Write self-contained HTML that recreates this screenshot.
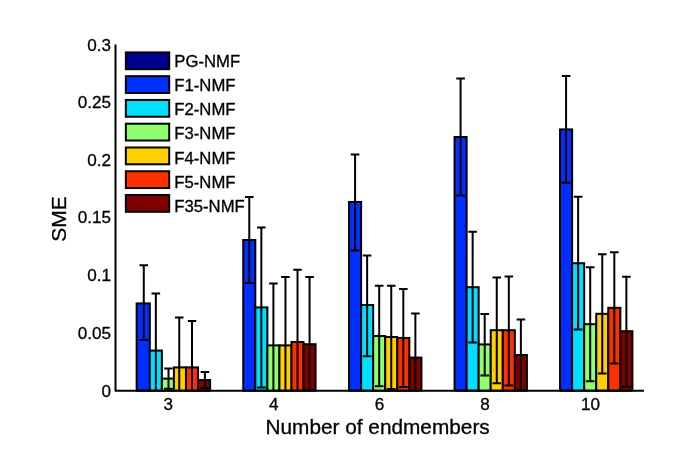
<!DOCTYPE html>
<html lang="en"><head><meta charset="utf-8"><title>SME vs number of endmembers</title>
<style>html,body{margin:0;padding:0;background:#fff}body{width:685px;height:452px;overflow:hidden}svg{display:block}svg text{filter:grayscale(1);stroke:#000;stroke-width:.3px}text{font-family:"Liberation Sans",Arial,Helvetica,sans-serif;fill:#000}</style></head><body>
<svg width="685" height="452" viewBox="0 0 685 452">
<rect width="685" height="452" fill="#fff"/>
<defs><clipPath id="ax"><rect x="115.5" y="0" width="538.5" height="390.7"/></clipPath></defs>
<g stroke="#000" stroke-width="2" stroke-linejoin="miter">
<rect x="136.65" y="303.40" width="13.16" height="87.30" fill="#0030ff"/>
<rect x="149.81" y="350.60" width="12.06" height="40.10" fill="#00dfff"/>
<rect x="161.87" y="378.60" width="12.06" height="12.10" fill="#8fff70"/>
<rect x="173.93" y="367.40" width="12.06" height="23.30" fill="#ffcf00"/>
<rect x="185.99" y="367.40" width="12.06" height="23.30" fill="#ff3000"/>
<rect x="198.05" y="380.00" width="12.06" height="10.70" fill="#800000"/>
<rect x="243.25" y="240.00" width="12.06" height="150.70" fill="#0030ff"/>
<rect x="255.31" y="307.40" width="12.06" height="83.30" fill="#00dfff"/>
<rect x="267.37" y="345.40" width="12.06" height="45.30" fill="#8fff70"/>
<rect x="279.43" y="345.40" width="12.06" height="45.30" fill="#ffcf00"/>
<rect x="291.49" y="342.00" width="12.06" height="48.70" fill="#ff3000"/>
<rect x="303.55" y="344.20" width="12.06" height="46.50" fill="#800000"/>
<rect x="349.05" y="202.00" width="12.06" height="188.70" fill="#0030ff"/>
<rect x="361.11" y="305.00" width="12.06" height="85.70" fill="#00dfff"/>
<rect x="373.17" y="336.00" width="12.06" height="54.70" fill="#8fff70"/>
<rect x="385.23" y="337.00" width="12.06" height="53.70" fill="#ffcf00"/>
<rect x="397.29" y="338.00" width="12.06" height="52.70" fill="#ff3000"/>
<rect x="409.35" y="357.60" width="12.06" height="33.10" fill="#800000"/>
<rect x="454.55" y="137.00" width="12.06" height="253.70" fill="#0030ff"/>
<rect x="466.61" y="287.20" width="12.06" height="103.50" fill="#00dfff"/>
<rect x="478.67" y="344.40" width="12.06" height="46.30" fill="#8fff70"/>
<rect x="490.73" y="330.20" width="12.06" height="60.50" fill="#ffcf00"/>
<rect x="502.79" y="330.20" width="12.06" height="60.50" fill="#ff3000"/>
<rect x="514.85" y="355.00" width="12.06" height="35.70" fill="#800000"/>
<rect x="560.05" y="129.40" width="12.06" height="261.30" fill="#0030ff"/>
<rect x="572.11" y="263.20" width="12.06" height="127.50" fill="#00dfff"/>
<rect x="584.17" y="324.20" width="12.06" height="66.50" fill="#8fff70"/>
<rect x="596.23" y="313.80" width="12.06" height="76.90" fill="#ffcf00"/>
<rect x="608.29" y="307.80" width="12.06" height="82.90" fill="#ff3000"/>
<rect x="620.35" y="331.20" width="12.06" height="59.50" fill="#800000"/>
</g>
<g stroke="#000" stroke-width="2" fill="none" clip-path="url(#ax)">
<path d="M143.78 265.20V340.00M139.48 265.20H148.08M139.48 340.00H148.08"/>
<path d="M155.84 293.50V407.70M151.54 293.50H160.14M151.54 407.70H160.14"/>
<path d="M168.50 368.60V388.70M164.20 368.60H172.80M164.20 388.70H172.80"/>
<path d="M179.26 317.40V417.40M174.96 317.40H183.56M174.96 417.40H183.56"/>
<path d="M192.02 321.00V413.80M187.72 321.00H196.32M187.72 413.80H196.32"/>
<path d="M204.88 372.00V388.00M200.58 372.00H209.18M200.58 388.00H209.18"/>
<path d="M249.28 197.00V283.00M244.98 197.00H253.58M244.98 283.00H253.58"/>
<path d="M261.34 227.40V387.40M257.04 227.40H265.64M257.04 387.40H265.64"/>
<path d="M273.40 283.40V407.40M269.10 283.40H277.70M269.10 407.40H277.70"/>
<path d="M285.46 277.00V413.80M281.16 277.00H289.76M281.16 413.80H289.76"/>
<path d="M297.52 269.80V414.20M293.22 269.80H301.82M293.22 414.20H301.82"/>
<path d="M309.58 277.00V411.40M305.28 277.00H313.88M305.28 411.40H313.88"/>
<path d="M355.08 154.50V250.60M350.78 154.50H359.38M350.78 250.60H359.38"/>
<path d="M367.14 255.50V356.20M362.84 255.50H371.44M362.84 356.20H371.44"/>
<path d="M379.20 285.80V386.20M374.90 285.80H383.50M374.90 386.20H383.50"/>
<path d="M391.26 285.80V389.00M386.96 285.80H395.56M386.96 389.00H395.56"/>
<path d="M403.32 289.00V387.00M399.02 289.00H407.62M399.02 387.00H407.62"/>
<path d="M415.38 313.40V401.80M411.08 313.40H419.68M411.08 401.80H419.68"/>
<path d="M460.58 78.50V195.50M456.28 78.50H464.88M456.28 195.50H464.88"/>
<path d="M472.64 231.80V342.60M468.34 231.80H476.94M468.34 342.60H476.94"/>
<path d="M484.70 314.00V375.60M480.40 314.00H489.00M480.40 375.60H489.00"/>
<path d="M496.76 277.50V383.30M492.46 277.50H501.06M492.46 383.30H501.06"/>
<path d="M508.82 276.60V385.40M504.52 276.60H513.12M504.52 385.40H513.12"/>
<path d="M520.88 319.50V390.50M516.58 319.50H525.18M516.58 390.50H525.18"/>
<path d="M566.08 76.00V182.80M561.78 76.00H570.38M561.78 182.80H570.38"/>
<path d="M578.14 196.80V329.60M573.84 196.80H582.44M573.84 329.60H582.44"/>
<path d="M590.20 267.20V381.20M585.90 267.20H594.50M585.90 381.20H594.50"/>
<path d="M602.26 254.20V373.40M597.96 254.20H606.56M597.96 373.40H606.56"/>
<path d="M614.32 252.20V363.40M610.02 252.20H618.62M610.02 363.40H618.62"/>
<path d="M626.38 276.80V386.80M622.08 276.80H630.68M622.08 386.80H630.68"/>
</g>
<path d="M115.50 44.60V390.70H644.00" stroke="#000" stroke-width="2" fill="none" stroke-linejoin="round"/>
<g font-size="17.1" text-anchor="end">
<text x="111.1" y="396.80">0</text>
<text x="111.1" y="338.68">0.05</text>
<text x="111.1" y="281.07">0.1</text>
<text x="111.1" y="222.95">0.15</text>
<text x="111.1" y="165.83">0.2</text>
<text x="111.1" y="108.22">0.25</text>
<text x="111.1" y="50.60">0.3</text>
</g>
<g font-size="17.1" text-anchor="middle">
<text x="168.20" y="409.8">3</text>
<text x="273.70" y="409.8">4</text>
<text x="379.50" y="409.8">6</text>
<text x="485.00" y="409.8">8</text>
<text x="590.50" y="409.8">10</text>
</g>
<text x="377.6" y="433.6" font-size="20.8" text-anchor="middle">Number of endmembers</text>
<text transform="translate(65.6 219.0) rotate(-90)" font-size="21" text-anchor="middle">SME</text>
<g stroke="#000" stroke-width="2">
<rect x="125.85" y="52.40" width="43.35" height="16.8" fill="#00008f"/>
<rect x="125.85" y="76.17" width="43.35" height="16.8" fill="#0030ff"/>
<rect x="125.85" y="99.94" width="43.35" height="16.8" fill="#00dfff"/>
<rect x="125.85" y="123.71" width="43.35" height="16.8" fill="#8fff70"/>
<rect x="125.85" y="147.48" width="43.35" height="16.8" fill="#ffcf00"/>
<rect x="125.85" y="171.25" width="43.35" height="16.8" fill="#ff3000"/>
<rect x="125.85" y="195.02" width="43.35" height="16.8" fill="#800000"/>
</g>
<g font-size="16.7">
<text x="174.3" y="66.80">PG-NMF</text>
<text x="174.3" y="91.00">F1-NMF</text>
<text x="174.3" y="115.20">F2-NMF</text>
<text x="174.3" y="139.40">F3-NMF</text>
<text x="174.3" y="163.60">F4-NMF</text>
<text x="174.3" y="187.80">F5-NMF</text>
<text x="174.3" y="212.00">F35-NMF</text>
</g>
</svg></body></html>
